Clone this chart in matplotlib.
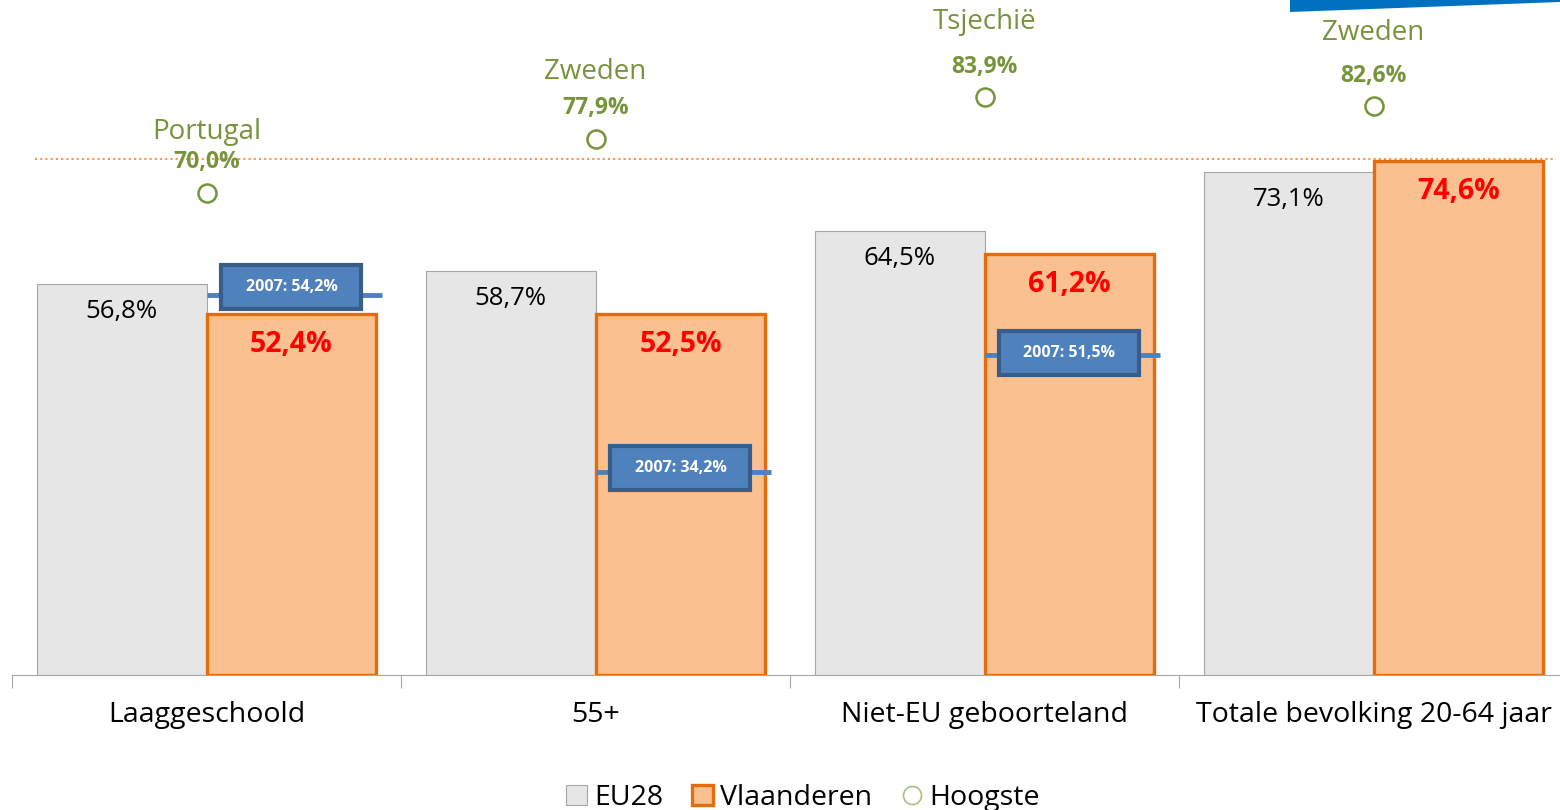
import matplotlib.pyplot as plt
from matplotlib.patches import Polygon, Rectangle
from matplotlib.lines import Line2D
from matplotlib.patches import Patch

plt.rcParams['font.family'] = ['Open Sans', 'DejaVu Sans']

categories = ['Laaggeschoold', '55+', 'Niet-EU geboorteland', 'Totale bevolking 20-64 jaar']
eu28 = [56.8, 58.7, 64.5, 73.1]
vlaanderen = [52.4, 52.5, 61.2, 74.6]
hoogste = [70.0, 77.9, 83.9, 82.6]
hoogste_land = ['Portugal', 'Zweden', 'Tsjechië', 'Zweden']
# 2007-waarden (label) en hoogte van de markering zoals in de figuur
labels_2007 = ['2007: 54,2%', '2007: 34,2%', '2007: 51,5%']
niveau_2007 = [55.2, 29.5, 46.5]
doel = 75.0

green = '#77933C'
fig = plt.figure(figsize=(15.6, 8.1), dpi=100)
ax = fig.add_axes([12 / 1560, 135 / 810, 1556 / 1560, 675 / 810])

x = list(range(len(categories)))
w = 0.437
ax.bar([i - w / 2 for i in x], eu28, w, color='#E6E6E6', edgecolor='#A6A6A6', linewidth=0.8, zorder=2)
ax.bar([i + w / 2 for i in x], vlaanderen, w, color='#FAC090', edgecolor='#E46C0A', linewidth=2.4, zorder=2)

ax.hlines(doel, -0.44, 3.47, colors='#F79646', linestyles=(0, (1, 1.5)), linewidth=1.5, zorder=1)

# afstand landnaam boven de cirkel (punten)
naam_offset = [44, 48, 54, 53]
for i in x:
    ax.annotate(f'{eu28[i]:.1f}%'.replace('.', ','), (i - w / 2, eu28[i]), xytext=(0, -20),
                textcoords='offset points', ha='center', va='center', fontsize=18.5, zorder=5)
    ax.annotate(f'{vlaanderen[i]:.1f}%'.replace('.', ','), (i + w / 2, vlaanderen[i]), xytext=(0, -22),
                textcoords='offset points', ha='center', va='center', fontsize=20.5, color='red',
                fontweight='bold', zorder=5)
    ax.plot(i, hoogste[i], 'o', ms=13, mfc='white', mec=green, mew=1.8, zorder=4, clip_on=False)
    ax.annotate(f'{hoogste[i]:.1f}%'.replace('.', ','), (i, hoogste[i]), xytext=(0, 22),
                textcoords='offset points', ha='center', va='center', fontsize=16.5, color=green,
                fontweight='bold', zorder=5, annotation_clip=False)
    ax.annotate(hoogste_land[i], (i, hoogste[i]), xytext=(0, naam_offset[i]),
                textcoords='offset points', ha='center', va='center', fontsize=20, color=green,
                zorder=5, annotation_clip=False)

bw, bh = 140 / 389, 44 / 6.885
box_shift = [1.2, 0.5, 0.2]
for i, (lab, lvl) in enumerate(zip(labels_2007, niveau_2007)):
    ax.hlines(lvl, i, i + 0.45, colors='#4F81BD', linewidth=3.5, zorder=6)
    cx = i + w / 2
    cy = lvl + box_shift[i]
    ax.add_patch(Rectangle((cx - bw / 2, cy - bh / 2), bw, bh, facecolor='#4F81BD',
                           edgecolor='#385D8A', linewidth=3, zorder=7))
    ax.text(cx, cy, lab, ha='center', va='center', color='white', fontsize=11.5,
            fontweight='bold', zorder=8)

ax.set_xlim(-0.5, 3.5)
ax.set_ylim(0, 98.04)
ax.set_yticks([])
for s in ['top', 'right', 'left']:
    ax.spines[s].set_visible(False)
ax.spines['bottom'].set_color('#A6A6A6')
ax.set_xticks([-0.5, 0.5, 1.5, 2.5])
ax.set_xticklabels([])
ax.tick_params(axis='x', length=9, color='#A6A6A6', direction='out')
for i, c in enumerate(categories):
    ax.text(i, -5.8, c, ha='center', va='center', fontsize=20.5, clip_on=False)

handles = [Patch(facecolor='#E6E6E6', edgecolor='#A6A6A6', linewidth=0.8, label='EU28'),
           Patch(facecolor='#FAC090', edgecolor='#E46C0A', linewidth=2.4, label='Vlaanderen'),
           Line2D([], [], marker='o', ls='', ms=13, mfc='white', mec='#A9C27A', mew=1.2, label='Hoogste')]
fig.legend(handles=handles, loc='center', bbox_to_anchor=(803 / 1560, 1 - 798 / 810), ncol=3,
           frameon=False, fontsize=20.5, handlelength=0.75, handleheight=0.75, handletextpad=0.25,
           columnspacing=1.0)

# blauwe balk rechtsboven (dia-opmaak)
fig.patches.append(Polygon([(1290 / 1560, 1), (1, 1), (1, 1 - 2 / 810), (1290 / 1560, 1 - 12 / 810)],
                           closed=True, transform=fig.transFigure, facecolor='#0070C0', edgecolor='none'))

fig.savefig('out.png', dpi=100)
